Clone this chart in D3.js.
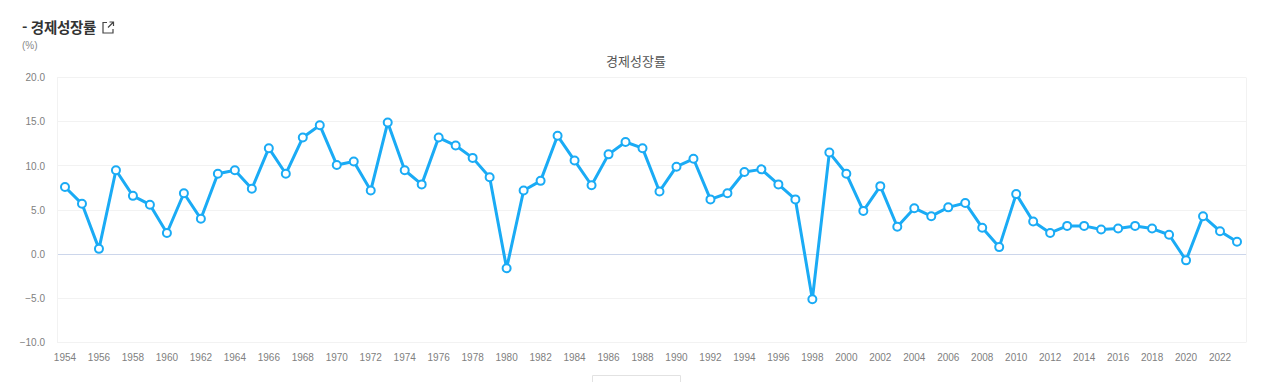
<!DOCTYPE html>
<html lang="ko">
<head>
<meta charset="utf-8">
<script src="https://cdn.jsdelivr.net/npm/d3@7"></script>
<style>
  html, body { margin: 0; padding: 0; background: #fff; overflow: hidden; }
  svg { display: block; }
  text { font-family: "Liberation Sans", Arial, sans-serif; }
  .kr { font-family: "Noto Sans CJK KR", sans-serif; }
</style>
</head>
<body>
<svg id="chart" width="1269" height="382"></svg>
<script>
const years = d3.range(1954, 2024);
const growth = [
  7.6, 5.7, 0.6, 9.5, 6.6, 5.6, 2.4, 6.9, 4.0, 9.1,
  9.5, 7.4, 12.0, 9.1, 13.2, 14.6, 10.1, 10.5, 7.2, 14.9,
  9.5, 7.9, 13.2, 12.3, 10.9, 8.7, -1.6, 7.2, 8.3, 13.4,
  10.6, 7.8, 11.3, 12.7, 12.0, 7.1, 9.9, 10.8, 6.2, 6.9,
  9.3, 9.6, 7.9, 6.2, -5.1, 11.5, 9.1, 4.9, 7.7, 3.1,
  5.2, 4.3, 5.3, 5.8, 3.0, 0.8, 6.8, 3.7, 2.4, 3.2,
  3.2, 2.8, 2.9, 3.2, 2.9, 2.2, -0.7, 4.3, 2.6, 1.4
];
const yTicks = [-10, -5, 0, 5, 10, 15, 20];
const xTicks = years.filter(y => y % 2 === 0);

const svg = d3.select("#chart");
const plotLeft = 57, plotRight = 1246, plotTop = 77.5, plotBottom = 342.5;

const x = d3.scaleBand().domain(years).range([plotLeft - 0.5, plotRight - 0.5]);
const y = d3.scaleLinear().domain([-10, 20]).range([plotBottom, plotTop]);
const gridY = d => Math.floor(y(d)) + 0.5;

// page header
svg.append("text")
  .attr("class", "kr")
  .attr("x", 22).attr("y", 33)
  .attr("font-size", 14.5).attr("font-weight", 700)
  .attr("letter-spacing", -0.3)
  .attr("fill", "#333")
  .text("- 경제성장률");

// little "open in new window" icon
const icon = svg.append("g")
  .attr("fill", "none").attr("stroke", "#444").attr("stroke-width", 1.2);
icon.append("path").attr("d", "M107 22.5H103V33H113V29");
icon.append("path").attr("d", "M108 27.5L113 22.5M109.5 22H113.5V26");

svg.append("text")
  .attr("x", 22).attr("y", 49)
  .attr("font-size", 10).attr("fill", "#888")
  .text("(%)");

svg.append("text")
  .attr("class", "kr")
  .attr("x", 636).attr("y", 66)
  .attr("text-anchor", "middle")
  .attr("font-size", 13).attr("fill", "#555")
  .text("경제성장률");

// grid
const yAxis = d3.axisLeft(y).tickValues(yTicks).tickSize(0).tickPadding(12).tickFormat(d3.format(".1f"));
const gy = svg.append("g").attr("transform", `translate(${plotLeft},0)`).call(yAxis);
gy.select(".domain").remove();
gy.selectAll("text")
  .attr("font-size", 10).attr("fill", "#808080")
  .style("font-family", "'Liberation Sans', Arial, sans-serif");

svg.append("g").selectAll("line")
  .data(yTicks)
  .join("line")
  .attr("x1", plotLeft).attr("x2", plotRight)
  .attr("y1", gridY).attr("y2", gridY)
  .attr("stroke", d => d === 0 ? "#ccd6eb" : "#f2f2f2");

svg.append("g").attr("stroke", "#f2f2f2").selectAll("line")
  .data([plotLeft, plotRight])
  .join("line")
  .attr("x1", d => d + 0.5).attr("x2", d => d + 0.5)
  .attr("y1", gridY(20)).attr("y2", gridY(-10));

const xAxis = d3.axisBottom(x).tickValues(xTicks).tickSize(0).tickPadding(11);
const gx = svg.append("g").attr("transform", `translate(0,${plotBottom})`).call(xAxis);
gx.select(".domain").remove();
gx.selectAll("text")
  .attr("font-size", 10).attr("fill", "#808080")
  .style("font-family", "'Liberation Sans', Arial, sans-serif");

// series
const cx = d => x(d) + x.bandwidth() / 2;
const line = d3.line().x((d, i) => cx(years[i])).y(d => y(d));

svg.append("path")
  .datum(growth)
  .attr("d", line)
  .attr("fill", "none")
  .attr("stroke", "#1aabf5")
  .attr("stroke-width", 3)
  .attr("stroke-linejoin", "round");

svg.append("g").selectAll("circle")
  .data(growth)
  .join("circle")
  .attr("cx", (d, i) => cx(years[i]))
  .attr("cy", d => y(d))
  .attr("r", 4)
  .attr("fill", "#fff")
  .attr("stroke", "#1aabf5")
  .attr("stroke-width", 2);

// cut-off box at the bottom edge of the page
svg.append("path")
  .attr("d", "M592.5 382V375.5H680.5V382")
  .attr("fill", "none")
  .attr("stroke", "#e2e2e2");
</script>
</body>
</html>
